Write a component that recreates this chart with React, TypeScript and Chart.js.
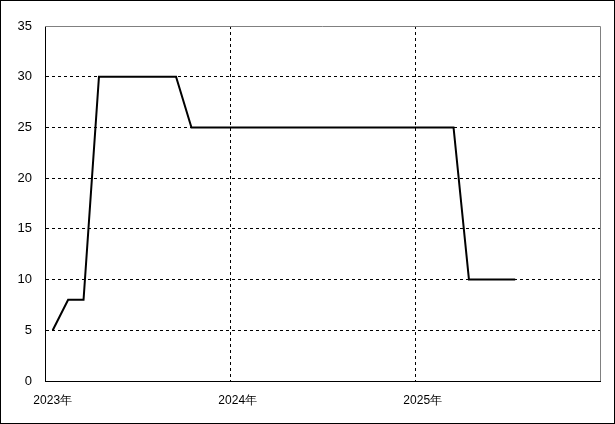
import React, { useEffect, useRef } from "react";
import { Chart, registerables } from "chart.js";

Chart.register(...registerables);

// Monthly categories, Jan 2023 .. Dec 2025
const years = ["2023", "2024", "2025"];
const months = ["01", "02", "03", "04", "05", "06", "07", "08", "09", "10", "11", "12"];
const categories: string[] = [];
years.forEach((y) => months.forEach((m) => categories.push(`${y}-${m}`)));

// Values read per month (Jan 2023 .. Jul 2025)
const values = [
  5, 8, 8, 30, 30, 30, 30, 30, 30, 25, 25, 25,
  25, 25, 25, 25, 25, 25, 25, 25, 25, 25, 25, 25,
  25, 25, 25, 10, 10, 10, 10,
];

const yTicks = [0, 5, 10, 15, 20, 25, 30, 35];

const framePlugin = {
  id: "frame",
  afterDraw(chart: any) {
    const { ctx, chartArea } = chart;
    ctx.save();
    ctx.strokeStyle = "#808080";
    ctx.lineWidth = 1;
    ctx.beginPath();
    ctx.moveTo(chartArea.left, Math.round(chartArea.top) + 0.5);
    ctx.lineTo(Math.round(chartArea.right) + 0.5, Math.round(chartArea.top) + 0.5);
    ctx.lineTo(Math.round(chartArea.right) + 0.5, chartArea.bottom);
    ctx.stroke();
    ctx.restore();
  },
};

export default function App() {
  const ref = useRef<HTMLCanvasElement>(null);
  useEffect(() => {
    document.body.style.margin = "0";
    const chart = new Chart(ref.current!, {
      type: "line",
      data: {
        labels: categories,
        datasets: [
          {
            data: values,
            borderColor: "#000000",
            borderWidth: 2,
            pointRadius: 0,
            tension: 0,
            fill: false,
          },
        ],
      },
      options: {
        animation: false,
        responsive: false,
        devicePixelRatio: 1,
        layout: { padding: { top: 25, right: 14, left: 0, bottom: 0 } },
        plugins: { legend: { display: false }, tooltip: { enabled: false } },
        scales: {
          x: {
            type: "category",
            offset: true,
            afterFit(scale: any) {
              scale.height = 42;
            },
            grid: {
              offset: true,
              drawTicks: false,
              color: (ctx: any) =>
                ctx.index === 12 || ctx.index === 24 ? "#000000" : "rgba(0,0,0,0)",
              lineWidth: 1,
            },
            border: { display: true, color: "#000000", width: 1, dash: [3, 3] },
            ticks: {
              autoSkip: false,
              maxRotation: 0,
              padding: 12,
              color: "#000000",
              font: { family: "Liberation Sans", size: 12 },
              callback: (_v: any, i: number) =>
                categories[i].endsWith("-01") ? `${categories[i].slice(0, 4)}年` : "",
            },
          },
          y: {
            min: 0,
            max: 35,
            afterFit(scale: any) {
              scale.width = 44;
            },
            afterBuildTicks(scale: any) {
              scale.ticks = yTicks.map((v) => ({ value: v }));
            },
            grid: {
              drawTicks: false,
              color: (ctx: any) =>
                ctx.tick && ctx.tick.value > 0 && ctx.tick.value < 35 ? "#000000" : "rgba(0,0,0,0)",
              lineWidth: 1,
            },
            border: { display: true, color: "#000000", width: 1, dash: [3, 3] },
            ticks: {
              padding: 13,
              color: "#000000",
              font: { family: "Liberation Sans", size: 13 },
            },
          },
        },
      },
      plugins: [framePlugin],
    });
    return () => chart.destroy();
  }, []);
  return (
    <div
      style={{
        position: "fixed",
        left: 0,
        top: 0,
        width: 615,
        height: 424,
        border: "1px solid #000",
        boxSizing: "border-box",
        overflow: "hidden",
        background: "#fff",
      }}
    >
      <canvas
        ref={ref}
        width={613}
        height={422}
        style={{ display: "block", width: 613, height: 422 }}
      />
    </div>
  );
}
